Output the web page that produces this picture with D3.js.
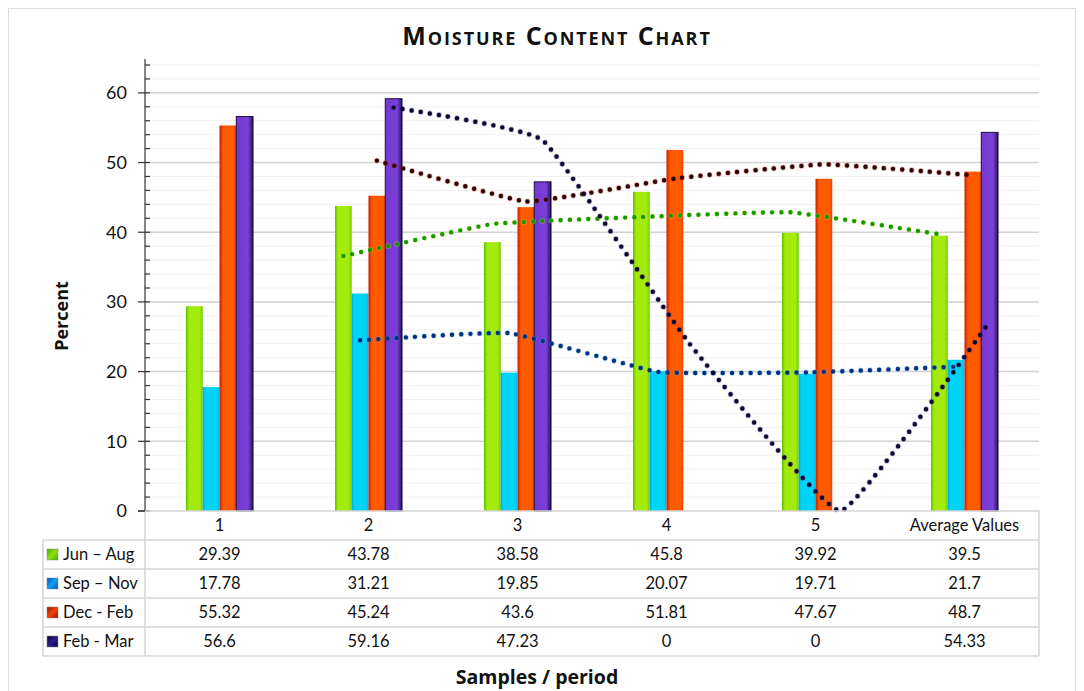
<!DOCTYPE html>
<html>
<head>
<meta charset="utf-8">
<script src="https://cdn.jsdelivr.net/npm/d3@7/dist/d3.min.js"></script>
<style>
  body { margin: 0; background: #fff; }
  svg { display: block; font-family: Lato, "Open Sans", sans-serif; }
</style>
</head>
<body>
<svg id="chart" width="1084" height="691"></svg>
<script>
const categories = ["1", "2", "3", "4", "5", "Average Values"];
const seriesNames = ["Jun \u2013 Aug", "Sep \u2013 Nov", "Dec - Feb", "Feb - Mar"];
const junAug = [29.39, 43.78, 38.58, 45.8, 39.92, 39.5];
const sepNov = [17.78, 31.21, 19.85, 20.07, 19.71, 21.7];
const decFeb = [55.32, 45.24, 43.6, 51.81, 47.67, 48.7];
const febMar = [56.6, 59.16, 47.23, 0, 0, 54.33];
const yTicks = [0, 10, 20, 30, 40, 50, 60];

(function () {
const seriesValues = [junAug, sepNov, decFeb, febMar];
const barStops = [
  [["0%", "#58c000"], ["18%", "#a4ea0c"], ["82%", "#a4ea0c"], ["100%", "#6ccc00"]],
  [["0%", "#00a8e8"], ["15%", "#00d4f8"], ["85%", "#00d2f6"], ["100%", "#00b8ec"]],
  [["0%", "#c81e00"], ["22%", "#ff5a00"], ["85%", "#ff5a00"], ["100%", "#e84000"]],
  [["0%", "#7438d0"], ["70%", "#7a40d8"], ["88%", "#4a2498"], ["100%", "#140c40"]]
];
const swatchStops = [
  [["0%", "#40b000"], ["50%", "#90e010"], ["100%", "#40b000"]],
  [["0%", "#0050c0"], ["50%", "#10a0f0"], ["100%", "#0050c0"]],
  [["0%", "#a01000"], ["50%", "#f04000"], ["100%", "#a01000"]],
  [["0%", "#0a0830"], ["50%", "#2a1a90"], ["100%", "#0a0830"]]
];
const trendColors = ["#1a9600", "#06307e", "#2a0606", "#0c0a2c"];
const trendHalo = ["#b8f040", "#30a8f0", "#d02000", "#5030b0"];

const svg = d3.select("#chart");
const defs = svg.append("defs");
barStops.forEach((stops, i) => {
  const g = defs.append("linearGradient").attr("id", "bar" + i)
    .attr("x1", "0%").attr("x2", "100%").attr("y1", "0%").attr("y2", "0%");
  stops.forEach(s => g.append("stop").attr("offset", s[0]).attr("stop-color", s[1]));
});
swatchStops.forEach((stops, i) => {
  const g = defs.append("linearGradient").attr("id", "sw" + i)
    .attr("x1", "0%").attr("x2", "100%").attr("y1", "0%").attr("y2", "100%");
  stops.forEach(s => g.append("stop").attr("offset", s[0]).attr("stop-color", s[1]));
});

// outer border
svg.append("rect").attr("x", 8.5).attr("y", 8.5).attr("width", 1067).attr("height", 700)
  .attr("fill", "#fff").attr("stroke", "#dcdcdc").attr("stroke-width", 1);

const pLeft = 145, pRight = 1039, pTop = 59, pBottom = 511;
const x0 = d3.scaleBand().domain(categories).range([pLeft, pRight])
  .paddingInner(0.55).paddingOuter(0.275);
const x1 = d3.scaleBand().domain(d3.range(seriesNames.length)).range([0, x0.bandwidth()]);
const y = d3.scaleLinear().domain([0, 65]).range([pBottom, 58]);

// gridlines
const minor = d3.range(2, 65, 2).filter(v => v % 10 !== 0);
svg.append("g").selectAll("line").data(minor).join("line")
  .attr("x1", pLeft).attr("x2", pRight).attr("y1", d => y(d)).attr("y2", d => y(d))
  .attr("stroke", "#f1f1f1").attr("stroke-width", 1);
svg.append("g").selectAll("line").data(yTicks.filter(v => v > 0)).join("line")
  .attr("x1", pLeft).attr("x2", pRight).attr("y1", d => y(d)).attr("y2", d => y(d))
  .attr("stroke", "#d2d2d2").attr("stroke-width", 1.5);

// bars
const groups = svg.append("g").selectAll("g").data(categories).join("g")
  .attr("transform", d => `translate(${x0(d)},0)`);
groups.selectAll("rect").data((d, ci) => seriesValues.map((s, si) => ({si, v: s[ci]})))
  .join("rect")
  .attr("x", d => x1(d.si)).attr("width", x1.bandwidth())
  .attr("y", d => y(d.v)).attr("height", d => y(0) - y(d.v))
  .attr("fill", d => `url(#bar${d.si})`)
  .attr("stroke", d => d.si === 3 ? "#1a1040" : "none")
  .attr("stroke-width", d => d.si === 3 ? 1 : 0)
  .style("display", d => d.v > 0 ? null : "none");

// trendlines: 2-period moving average, smoothed, dotted
const line = d3.line().curve(d3.curveCardinal.tension(0.68)).x(d => d.x).y(d => d.y);
seriesValues.forEach((vals, si) => {
  const pts = [];
  for (let i = 1; i < vals.length; i++) {
    pts.push({x: x0(categories[i]) + x1(si) + x1.bandwidth() / 2, y: y((vals[i] + vals[i - 1]) / 2)});
  }
  svg.append("path").attr("d", line(pts)).attr("fill", "none")
    .attr("stroke", trendHalo[si]).attr("stroke-width", 5.8).attr("stroke-opacity", 0.35)
    .attr("stroke-linecap", "round").attr("stroke-dasharray", "0 9.2");
  svg.append("path").attr("d", line(pts)).attr("fill", "none")
    .attr("stroke", trendColors[si]).attr("stroke-width", 4.4)
    .attr("stroke-linecap", "round").attr("stroke-dasharray", "0 9.2");
});

// y axis
const yAxisG = svg.append("g");
yAxisG.append("line").attr("x1", pLeft).attr("x2", pLeft).attr("y1", pTop).attr("y2", pBottom)
  .attr("stroke", "#333").attr("stroke-width", 1.2);
yAxisG.selectAll(".minor").data(d3.range(0, 65, 2).filter(v => v % 10 !== 0)).join("line")
  .attr("x1", pLeft).attr("x2", pLeft + 5).attr("y1", d => y(d)).attr("y2", d => y(d))
  .attr("stroke", "#333").attr("stroke-width", 1.2);
yAxisG.selectAll(".major").data(yTicks).join("line")
  .attr("x1", pLeft - 7).attr("x2", pLeft + 5).attr("y1", d => y(d)).attr("y2", d => y(d))
  .attr("stroke", "#333").attr("stroke-width", 1.2);
yAxisG.selectAll("text").data(yTicks).join("text")
  .attr("x", 127).attr("y", d => y(d)).attr("dy", "0.36em")
  .attr("text-anchor", "end").attr("font-size", 18).attr("fill", "#111")
  .text(d => d);

// data table
const rowTop = 540, rowH = 29, tblLeft = 43;
const tbl = svg.append("g");
tbl.selectAll(".hl").data(d3.range(seriesNames.length + 1)).join("line")
  .attr("x1", tblLeft).attr("x2", pRight).attr("y1", d => rowTop + d * rowH).attr("y2", d => rowTop + d * rowH)
  .attr("stroke", "#d4d4d4").attr("stroke-width", 1.5);
tbl.append("line").attr("x1", pLeft).attr("x2", pRight).attr("y1", pBottom).attr("y2", pBottom)
  .attr("stroke", "#d4d4d4").attr("stroke-width", 1.5);
tbl.append("line").attr("x1", pLeft).attr("x2", pLeft).attr("y1", pBottom).attr("y2", rowTop + 4 * rowH)
  .attr("stroke", "#d4d4d4").attr("stroke-width", 1.5);
tbl.append("line").attr("x1", pRight).attr("x2", pRight).attr("y1", pBottom).attr("y2", rowTop + 4 * rowH)
  .attr("stroke", "#d4d4d4").attr("stroke-width", 1.5);
tbl.append("line").attr("x1", tblLeft).attr("x2", tblLeft).attr("y1", rowTop).attr("y2", rowTop + 4 * rowH)
  .attr("stroke", "#d4d4d4").attr("stroke-width", 1.5);
svg.append("line").attr("x1", pLeft - 7).attr("x2", pLeft).attr("y1", pBottom).attr("y2", pBottom)
  .attr("stroke", "#333").attr("stroke-width", 1.2);

tbl.selectAll(".cat").data(categories).join("text")
  .attr("x", d => x0(d) + x0.bandwidth() / 2).attr("y", (pBottom + rowTop) / 2).attr("dy", "0.36em")
  .attr("text-anchor", "middle").attr("font-size", 16.5).attr("fill", "#111").text(d => d);

seriesNames.forEach((name, si) => {
  const cy = rowTop + si * rowH + rowH / 2;
  tbl.append("rect").attr("x", 47).attr("y", cy - 5.5).attr("width", 11).attr("height", 11)
    .attr("fill", `url(#sw${si})`).attr("stroke", "#888").attr("stroke-width", 0.5);
  tbl.append("text").attr("x", 63).attr("y", cy).attr("dy", "0.36em")
    .attr("font-size", 16.5).attr("fill", "#111").text(name);
  tbl.selectAll(".v" + si).data(seriesValues[si]).join("text")
    .attr("x", (d, i) => x0(categories[i]) + x0.bandwidth() / 2).attr("y", cy).attr("dy", "0.36em")
    .attr("text-anchor", "middle").attr("font-size", 16.5).attr("fill", "#111").text(d => d);
});

// titles
svg.append("text").attr("x", 557).attr("y", 45).attr("text-anchor", "middle")
  .style("font-family", "'Open Sans', sans-serif").attr("letter-spacing", 1.9)
  .attr("font-size", 25).attr("font-weight", "bold").style("font-variant", "small-caps")
  .attr("fill", "#111").text("Moisture Content Chart");
svg.append("text").attr("transform", "translate(68,316) rotate(-90)").attr("text-anchor", "middle")
  .style("font-family", "'Open Sans', sans-serif")
  .attr("font-size", 18).attr("font-weight", "bold").attr("fill", "#111").text("Percent");
svg.append("text").attr("x", 537).attr("y", 684).attr("text-anchor", "middle")
  .style("font-family", "'Open Sans', sans-serif")
  .attr("font-size", 19.5).attr("font-weight", "bold").attr("fill", "#111").text("Samples / period");
})();
</script>
</body>
</html>
